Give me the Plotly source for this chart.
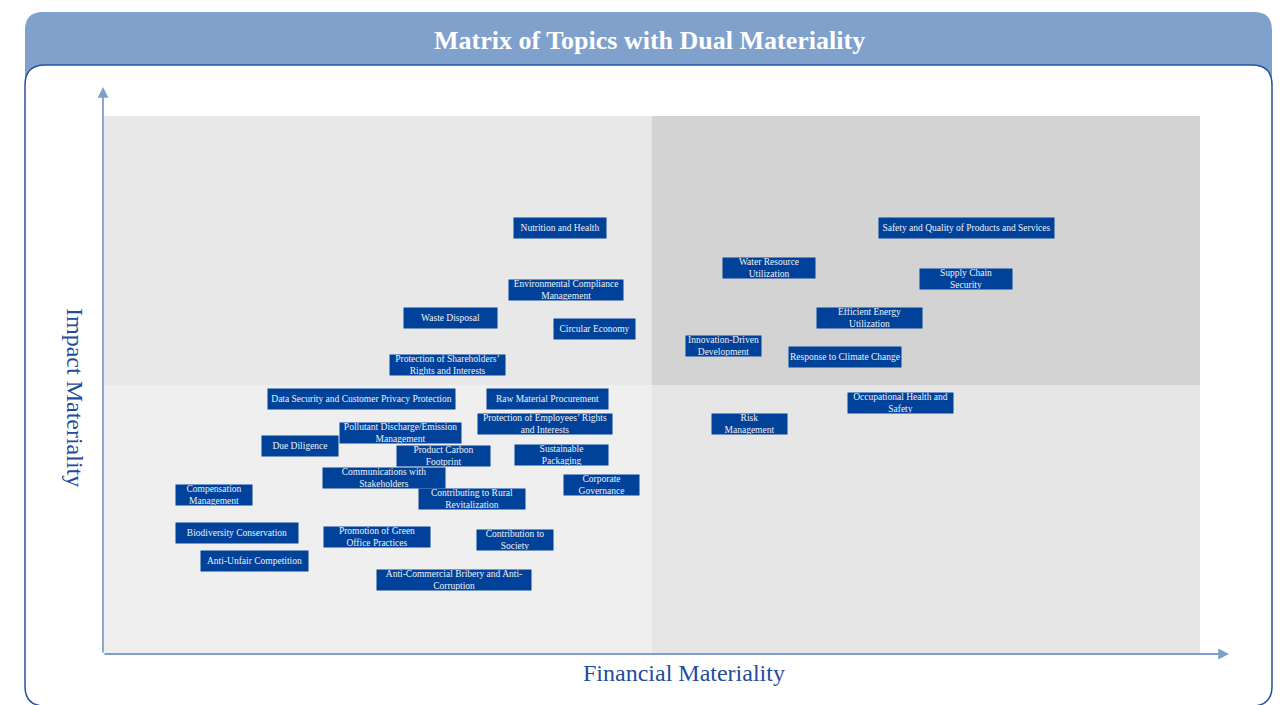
import plotly.graph_objects as go

# topics: financial materiality (x) and impact materiality (y), scale 0-10
topics = [
    "Nutrition and Health",
    "Safety and Quality of Products and Services",
    "Water Resource<br>Utilization",
    "Supply Chain<br>Security",
    "Environmental Compliance<br>Management",
    "Waste Disposal",
    "Circular Economy",
    "Efficient Energy<br>Utilization",
    "Innovation-Driven<br>Development",
    "Response to Climate Change",
    "Protection of Shareholders’<br>Rights and Interests",
    "Data Security and Customer Privacy Protection",
    "Raw Material Procurement",
    "Occupational Health and<br>Safety",
    "Protection of Employees’ Rights<br>and Interests",
    "Risk<br>Management",
    "Pollutant Discharge/Emission<br>Management",
    "Due Diligence",
    "Product Carbon<br>Footprint",
    "Sustainable<br>Packaging",
    "Communications with<br>Stakeholders",
    "Corporate<br>Governance",
    "Compensation<br>Management",
    "Contributing to Rural<br>Revitalization",
    "Biodiversity Conservation",
    "Promotion of Green<br>Office Practices",
    "Contribution to<br>Society",
    "Anti-Unfair Competition",
    "Anti-Commercial Bribery and Anti-<br>Corruption",
]
financial = [4.17, 7.87, 6.07, 7.87, 4.22, 3.17, 4.48, 6.99, 5.66, 6.76,
             3.14, 2.36, 4.05, 7.27, 4.03, 5.89, 2.71, 1.80, 3.10, 4.18,
             2.56, 4.54, 1.01, 3.36, 1.22, 2.50, 3.76, 1.38, 3.20]
impact = [7.92, 7.92, 7.17, 6.97, 6.77, 6.25, 6.04, 6.25, 5.72, 5.52,
          5.37, 4.74, 4.74, 4.67, 4.28, 4.28, 4.11, 3.87, 3.68, 3.70,
          3.27, 3.14, 2.96, 2.88, 2.25, 2.17, 2.12, 1.73, 1.38]

# label box widths in px (style only)
box_w = [92, 175, 92, 92, 114, 93, 81, 105, 75, 112, 115, 187, 121, 105, 134,
         75, 121, 76, 93, 93, 122, 75, 76, 106, 122, 106, 76, 107, 154]

W, H = 1281, 705
OFF = 8                             # page body margin of the html page
L, R, T, B = 103, 1200, 116, 654    # plot area in screen px
SERIF = "Liberation Serif, Times New Roman, serif"
BLUE = "#00419a"
HEAD = "#80a1cc"


def px(xp, yp):
    return (xp - L) / (R - L), (B - yp) / (B - T)


def rounded(x0, y0, x1, y1, r, bottom=True):
    # rounded rectangle path in paper coords, given in screen px
    def p(x, y):
        a, b = px(x, y)
        return f"{a:.5f},{b:.5f}"
    path = f"M{p(x0, y0 + r)} Q{p(x0, y0)} {p(x0 + r, y0)} L{p(x1 - r, y0)} Q{p(x1, y0)} {p(x1, y0 + r)} "
    if bottom:
        path += f"L{p(x1, y1 - r)} Q{p(x1, y1)} {p(x1 - r, y1)} L{p(x0 + r, y1)} Q{p(x0, y1)} {p(x0, y1 - r)} Z"
    else:
        path += f"L{p(x1, y1)} L{p(x0, y1)} Z"
    return path


fig = go.Figure()

fig.add_trace(go.Scatter(
    x=financial, y=impact, mode="markers",
    marker=dict(size=1, opacity=0),
    text=[t.replace("<br>", " ") for t in topics], hoverinfo="text",
    showlegend=False,
))

shapes = [
    dict(type="path", xref="paper", yref="paper", path=rounded(25, 12, 1272, 80, 18, bottom=False),
         fillcolor=HEAD, line=dict(width=0), layer="below"),
    dict(type="path", xref="paper", yref="paper", path=rounded(25, 65, 1272, 706, 20),
         fillcolor="white", line=dict(color="#2453a0", width=1.5), layer="below"),
]
quads = [(0, 5, 5, 10, "#e8e8e8"), (5, 10, 5, 10, "#d3d3d3"),
         (0, 5, 0, 5, "#efefef"), (5, 10, 0, 5, "#e6e6e6")]
for x0, x1, y0, y1, c in quads:
    shapes.append(dict(type="rect", xref="x", yref="y", x0=x0, x1=x1, y0=y0, y1=y1,
                       fillcolor=c, line=dict(width=0), layer="below"))

annotations = []
for t, xv, yv, w in zip(topics, financial, impact, box_w):
    annotations.append(dict(
        x=xv, y=yv, xref="x", yref="y", text=t, showarrow=False,
        xanchor="center", yanchor="middle",
        width=w, height=20, bgcolor=BLUE, borderpad=0, align="center",
        font=dict(family=SERIF, size=9.5, color="#eef2f8"),
    ))

# axis arrows
ax0, ay0 = px(103, 654)
ax1, _ = px(1229, 654)
_, ay1 = px(103, 87)
annotations.append(dict(x=ax1, y=ay0, xref="paper", yref="paper", ax=-(1229 - 103), ay=0,
                        showarrow=True, arrowhead=2, arrowsize=1.2, arrowwidth=1.8,
                        arrowcolor="#7f9fcb", text=""))
annotations.append(dict(x=ax0, y=ay1, xref="paper", yref="paper", ax=0, ay=(654 - 87),
                        showarrow=True, arrowhead=2, arrowsize=1.2, arrowwidth=1.8,
                        arrowcolor="#7f9fcb", text=""))

tx, ty = px(649, 40)
annotations.append(dict(x=tx, y=ty, xref="paper", yref="paper", showarrow=False,
                        xanchor="center", yanchor="middle",
                        text="<b>Matrix of Topics with Dual Materiality</b>",
                        font=dict(family=SERIF, size=26, color="white")))
fx, fy = px(684, 673)
annotations.append(dict(x=fx, y=fy, xref="paper", yref="paper", showarrow=False,
                        xanchor="center", yanchor="middle",
                        text="Financial Materiality",
                        font=dict(family=SERIF, size=24, color="#1f4c9c")))
ix, iy = px(75, 397)
annotations.append(dict(x=ix, y=iy, xref="paper", yref="paper", showarrow=False,
                        xanchor="center", yanchor="middle",
                        text="Impact Materiality", textangle=90,
                        font=dict(family=SERIF, size=24, color="#1f4c9c")))

fig.update_layout(
    width=W, height=H,
    margin=dict(l=L - OFF, r=W - (R - OFF), t=T - OFF, b=H - (B - OFF)),
    paper_bgcolor="white", plot_bgcolor="rgba(0,0,0,0)",
    shapes=shapes, annotations=annotations,
    xaxis=dict(range=[0, 10], visible=False, fixedrange=True),
    yaxis=dict(range=[0, 10], visible=False, fixedrange=True),
    showlegend=False,
)

fig.write_html("out.html")
